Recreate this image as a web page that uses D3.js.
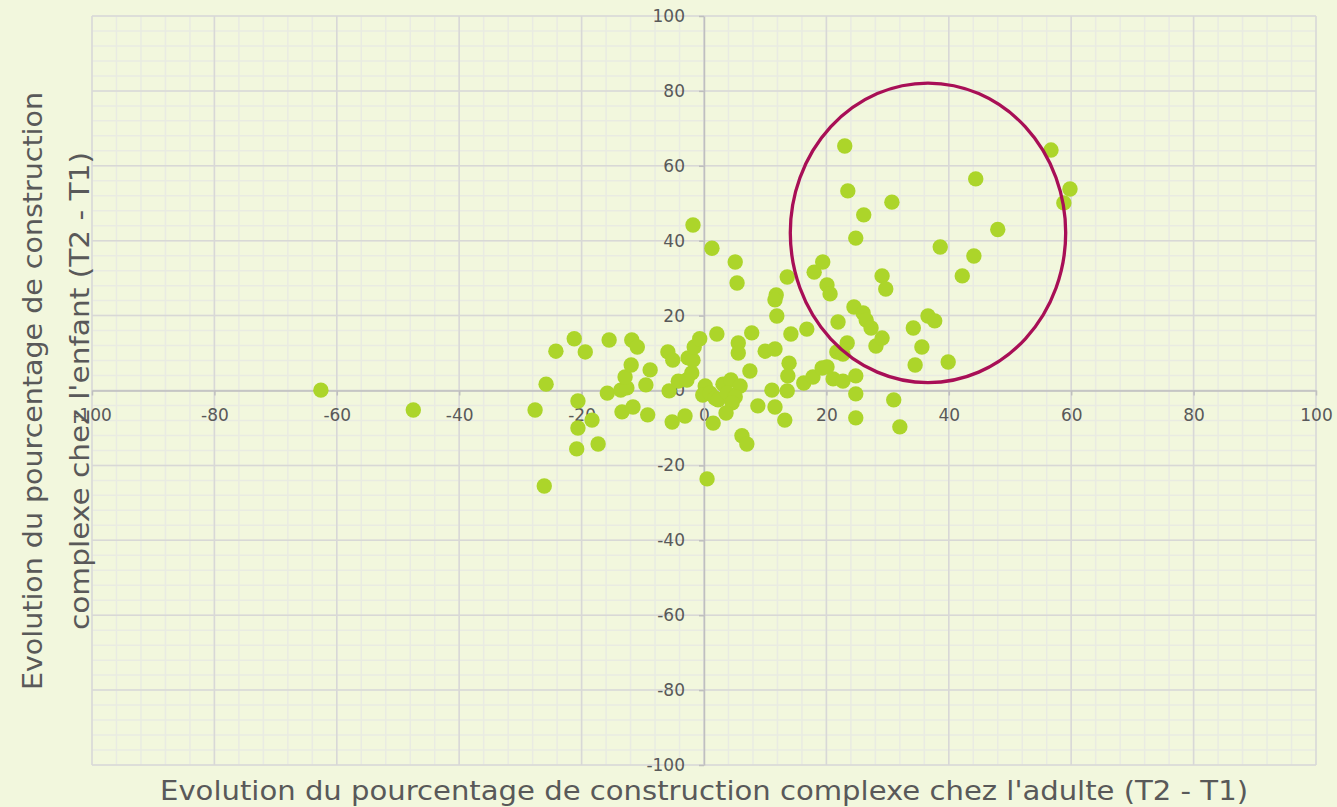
<!DOCTYPE html>
<html>
<head>
<meta charset="utf-8">
<script src="https://cdnjs.cloudflare.com/ajax/libs/d3/7.8.5/d3.min.js"></script>
<style>
body { margin: 0; background: #f2f7dd; }
svg { display: block; }
</style>
</head>
<body>
<div id="chart"></div>
<script>

// adult change (x) and child change (y), one pair per speaker
var adultChange = [-62.6, -47.5, -27.6, -25.8, -26.1, -24.2, -21.2, -19.4, -20.6, -18.3,
  -20.6, -20.8, -17.3, -15.5, -11.8, -10.9, -15.8, -13.6, -12.6, -12.9,
  -11.9, -8.8, -9.5, -13.4, -11.6, -9.2, -5.9, -5.1, -5.2, -3.1,
  -5.7, -4.2, -2.8, -2.0, -2.6, -1.8, -1.6, -0.7, -1.8, 0.2,
  -0.2, 1.0, 1.8, 2.3, 3.1, 4.4, 5.9, 3.8, 5.1, 4.6,
  1.5, 3.6, 6.2, 7.0, 0.5, 1.3, 5.1, 5.4, 2.1, 5.6,
  5.6, 7.8, 7.5, 10.0, 11.6, 8.8, 11.6, 13.2, 11.1, 13.6,
  11.8, 11.6, 11.9, 13.6, 14.2, 13.9, 13.7, 16.8, 16.3, 17.8,
  18.0, 19.4, 20.1, 20.6, 21.9, 19.3, 20.1, 21.1, 22.7, 21.7,
  22.7, 23.4, 23.0, 23.5, 24.5, 24.8, 24.8, 24.8, 24.8, 26.0,
  26.5, 26.1, 27.3, 28.1, 29.1, 29.1, 29.7, 30.7, 31.0, 32.0,
  34.2, 34.5, 35.6, 36.6, 37.7, 38.6, 39.9, 42.2, 44.1, 44.4,
  48.0, 56.7, 59.8, 58.8]

var childChange = [0.1, -5.2, -5.2, 1.7, -25.5, 10.5, 13.8, 10.3, -2.8, -7.9,
  -10.0, -15.6, -14.3, 13.5, 13.5, 11.6, -0.7, 0.1, 0.7, 3.6,
  6.8, 5.5, 1.5, -5.7, -4.4, -6.5, 10.3, 8.1, -8.4, -6.8,
  -0.1, 2.5, 2.8, 4.7, 8.7, 8.1, 11.6, 13.8, 44.2, 1.2,
  -1.2, -0.7, -2.0, -2.5, 1.7, 2.8, 1.2, -0.7, -1.7, -3.3,
  -8.7, -6.0, -12.1, -14.3, -23.6, 38.0, 34.3, 28.7, 15.1, 12.7,
  10.0, 15.4, 5.2, 10.5, 11.1, -4.1, -4.4, -7.9, 0.1, -0.1,
  25.5, 24.2, 19.9, 30.3, 15.1, 7.3, 3.9, 16.4, 2.0, 3.6,
  31.6, 34.3, 28.2, 25.8, 18.3, 6.0, 6.3, 3.1, 2.5, 10.3,
  9.7, 12.7, 65.3, 53.3, 22.3, 40.7, 3.9, -0.9, -7.3, 20.7,
  18.8, 46.9, 16.7, 11.9, 14.0, 30.6, 27.1, 50.3, -2.5, -9.7,
  16.7, 6.8, 11.6, 19.9, 18.6, 38.3, 7.6, 30.6, 35.9, 56.5,
  43.0, 64.2, 53.8, 50.1]

var tickValues = [-100, -80, -60, -40, -20, 0, 20, 40, 60, 80, 100]

// highlighted group (data units)
var highlight = { cx: 36.6, cy: 42.1, rx: 22.5, ry: 40 }

var width = 1337
var height = 807

var margins = {
  top: 16,
  bottom: 42,
  left: 92,
  right: 21
}

var svg = d3.select('#chart').append('svg')
  .attr('width', width)
  .attr('height', height)

svg.append('rect')
  .attr('width', width)
  .attr('height', height)
  .style('fill', '#f2f7dd')

var xScale = d3.scaleLinear().domain([-100, 100]).range([margins.left, width - margins.right])
var yScale = d3.scaleLinear().domain([-100, 100]).range([height - margins.bottom, margins.top])

//minor grid every 4, major every 20
var minorTicks = d3.range(-100, 101, 4)

var grid = svg.append('g').attr('class', 'grid')

grid.selectAll('.vminor')
  .data(minorTicks)
  .enter()
  .append('line')
  .attr('x1', function(d){ return xScale(d) })
  .attr('x2', function(d){ return xScale(d) })
  .attr('y1', yScale(-100))
  .attr('y2', yScale(100))
  .style('stroke', '#e9ebe2')
  .style('stroke-width', 1.5)

grid.selectAll('.hminor')
  .data(minorTicks)
  .enter()
  .append('line')
  .attr('y1', function(d){ return yScale(d) })
  .attr('y2', function(d){ return yScale(d) })
  .attr('x1', xScale(-100))
  .attr('x2', xScale(100))
  .style('stroke', '#e9ebe2')
  .style('stroke-width', 1.5)

grid.selectAll('.vmajor')
  .data(tickValues)
  .enter()
  .append('line')
  .attr('x1', function(d){ return xScale(d) })
  .attr('x2', function(d){ return xScale(d) })
  .attr('y1', yScale(-100))
  .attr('y2', yScale(100))
  .style('stroke', '#d8d8d6')
  .style('stroke-width', 1.5)

grid.selectAll('.hmajor')
  .data(tickValues)
  .enter()
  .append('line')
  .attr('y1', function(d){ return yScale(d) })
  .attr('y2', function(d){ return yScale(d) })
  .attr('x1', xScale(-100))
  .attr('x2', xScale(100))
  .style('stroke', '#d8d8d6')
  .style('stroke-width', 1.5)

//axes cross at zero, plain hyphen for negatives
var fmt = function(d){ return String(d) }
var xAxis = d3.axisBottom(xScale).tickValues(tickValues).tickFormat(fmt).tickSizeInner(5).tickSizeOuter(0).tickPadding(13)
var yAxis = d3.axisLeft(yScale).tickValues(tickValues).tickFormat(fmt).tickSizeInner(5).tickSizeOuter(0).tickPadding(14)

var gx = svg.append('g')
  .attr('transform', 'translate(0,' + yScale(0) + ')')
  .call(xAxis)

var gy = svg.append('g')
  .attr('transform', 'translate(' + xScale(0) + ',0)')
  .call(yAxis)

svg.selectAll('.domain, .tick line')
  .style('stroke', '#bfbfbf')
  .style('stroke-width', 1.5)

svg.selectAll('.tick text')
  .style('fill', '#595959')
  .style('font-family', 'DejaVu Sans, sans-serif')
  .style('font-size', '17px')

//points
svg.append('g')
  .selectAll('circle')
  .data(adultChange)
  .enter()
  .append('circle')
  .attr('cx', function(d){ return xScale(d) })
  .attr('cy', function(d, i){ return yScale(childChange[i]) })
  .attr('r', 7.7)
  .style('fill', '#acd52a')

//highlight ring
svg.append('ellipse')
  .attr('cx', xScale(highlight.cx))
  .attr('cy', yScale(highlight.cy))
  .attr('rx', xScale(highlight.rx) - xScale(0))
  .attr('ry', yScale(0) - yScale(highlight.ry))
  .style('fill', 'none')
  .style('stroke', '#a80f56')
  .style('stroke-width', 3.3)

//titles
svg.append('text')
  .attr('x', xScale(0))
  .attr('y', 791)
  .attr('text-anchor', 'middle')
  .attr('dominant-baseline', 'central')
  .attr('textLength', 1088)
  .attr('lengthAdjust', 'spacingAndGlyphs')
  .style('fill', '#595959')
  .style('font-family', 'DejaVu Sans, sans-serif')
  .style('font-size', '26px')
  .text("Evolution du pourcentage de construction complexe chez l'adulte (T2 - T1)")

var yTitle = [
  { text: 'Evolution du pourcentage de construction', x: 33, len: 598 },
  { text: "complexe chez l'enfant (T2 - T1)", x: 80, len: 478 }
]

yTitle.forEach(function(t){
  svg.append('text')
    .attr('transform', 'translate(' + t.x + ',' + 391 + ') rotate(-90)')
    .attr('text-anchor', 'middle')
    .attr('dominant-baseline', 'central')
    .attr('textLength', t.len)
    .attr('lengthAdjust', 'spacingAndGlyphs')
    .style('fill', '#595959')
    .style('font-family', 'DejaVu Sans, sans-serif')
    .style('font-size', '26px')
    .text(t.text)
})

</script>
</body>
</html>
